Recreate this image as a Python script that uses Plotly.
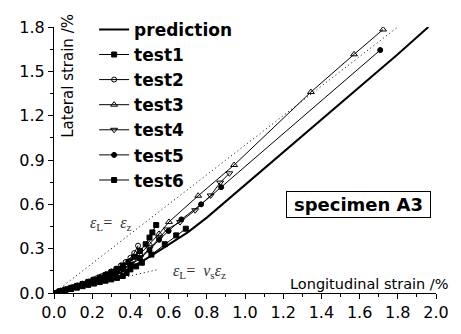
import plotly.graph_objects as go

# ---------------- data ----------------
pred_x = [0, 0.1, 0.2, 0.3, 0.4, 0.5, 0.6, 0.7, 0.8, 0.9, 1.0, 1.2, 1.4, 1.6, 1.8, 1.96]
pred_y = [0, 0.03, 0.065, 0.11, 0.17, 0.245, 0.325, 0.41, 0.51, 0.62, 0.735, 0.955, 1.175, 1.395, 1.615, 1.80]

t1_x = [0, 0.03, 0.06, 0.09, 0.12, 0.15, 0.18, 0.21, 0.24, 0.27, 0.30, 0.33, 0.36, 0.38, 0.40,
        0.43, 0.46, 0.51, 0.58, 0.64, 0.69]
t1_y = [0, 0.009, 0.018, 0.027, 0.036, 0.046, 0.055, 0.064, 0.074, 0.083, 0.092, 0.102, 0.115,
        0.135, 0.16, 0.18, 0.205, 0.26, 0.33, 0.39, 0.435]

t2_x = [0, 0.025, 0.05, 0.075, 0.10, 0.125, 0.15, 0.175, 0.20, 0.225, 0.25, 0.275, 0.30, 0.325,
        0.35, 0.375, 0.40, 0.42, 0.44]
t2_y = [0, 0.010, 0.020, 0.030, 0.040, 0.051, 0.062, 0.074, 0.087, 0.100, 0.114, 0.129, 0.146,
        0.165, 0.186, 0.21, 0.238, 0.27, 0.32]

t3_x = [0, 0.03, 0.06, 0.09, 0.12, 0.15, 0.18, 0.21, 0.24, 0.27, 0.30, 0.33, 0.36, 0.40, 0.45,
        0.50, 0.55, 0.602, 0.755, 0.943, 1.345, 1.571, 1.723]
t3_y = [0, 0.012, 0.024, 0.036, 0.049, 0.062, 0.076, 0.091, 0.107, 0.124, 0.142, 0.162, 0.183,
        0.215, 0.262, 0.33, 0.40, 0.481, 0.658, 0.866, 1.36, 1.615, 1.783]

t4_x = [0, 0.03, 0.06, 0.09, 0.12, 0.15, 0.18, 0.21, 0.24, 0.27, 0.30, 0.33, 0.36, 0.40, 0.45,
        0.50, 0.55, 0.59, 0.66, 0.739, 0.82, 0.87, 0.918]
t4_y = [0, 0.011, 0.022, 0.033, 0.045, 0.057, 0.07, 0.083, 0.097, 0.112, 0.128, 0.146, 0.166,
        0.195, 0.24, 0.30, 0.37, 0.43, 0.48, 0.56, 0.66, 0.747, 0.81]

t5_x = [0, 0.03, 0.06, 0.09, 0.12, 0.15, 0.18, 0.21, 0.24, 0.27, 0.30, 0.33, 0.36, 0.40, 0.45,
        0.50, 0.55, 0.60, 0.667, 0.77, 0.875, 1.708]
t5_y = [0, 0.010, 0.021, 0.032, 0.043, 0.055, 0.067, 0.08, 0.094, 0.109, 0.125, 0.142, 0.161,
        0.19, 0.232, 0.29, 0.36, 0.42, 0.498, 0.60, 0.716, 1.644]

t6_x = [0, 0.03, 0.06, 0.09, 0.12, 0.15, 0.18, 0.21, 0.24, 0.27, 0.30, 0.33, 0.36, 0.39, 0.42,
        0.45, 0.48, 0.50, 0.515, 0.535]
t6_y = [0, 0.011, 0.023, 0.035, 0.048, 0.061, 0.075, 0.09, 0.105, 0.122, 0.14, 0.16, 0.185,
        0.21, 0.245, 0.285, 0.33, 0.375, 0.41, 0.46]

eq_x = [0, 1.8]          # eps_L = eps_z
eq_y = [0, 1.8]
nu_x = [0, 0.55]         # eps_L = nu_s eps_z
nu_y = [0, 0.16]

series = [
    ("test1", t1_x, t1_y, "square", 5),
    ("test2", t2_x, t2_y, "circle-open", 5),
    ("test3", t3_x, t3_y, "triangle-up-open", 6),
    ("test4", t4_x, t4_y, "triangle-down-open", 6),
    ("test5", t5_x, t5_y, "circle-cross", 5),
    ("test6", t6_x, t6_y, "square", 5),
]

fig = go.Figure()

fig.add_trace(go.Scatter(x=eq_x, y=eq_y, mode="lines", showlegend=False,
                         line=dict(color="black", width=1, dash="1px,3px")))
fig.add_trace(go.Scatter(x=nu_x, y=nu_y, mode="lines", showlegend=False,
                         line=dict(color="black", width=1, dash="1px,3px")))

fig.add_trace(go.Scatter(x=pred_x, y=pred_y, mode="lines", name="prediction",
                         line=dict(color="black", width=2)))

for name, xs, ys, sym, sz in series:
    fig.add_trace(go.Scatter(
        x=xs, y=ys, mode="lines+markers", name=name,
        line=dict(color="black", width=1),
        marker=dict(symbol=sym, size=sz, color="black",
                    line=dict(color="black", width=1)),
    ))

FONT = "DejaVu Sans"

fig.update_layout(
    width=461, height=334,
    margin=dict(l=54, r=15, t=16, b=29),
    paper_bgcolor="white", plot_bgcolor="white",
    font=dict(family=FONT, color="black"),
    showlegend=True,
    legend=dict(x=0.105, y=1.057, xanchor="left", yanchor="top",
                bgcolor="rgba(0,0,0,0)", borderwidth=0, maxheight=400,
                font=dict(family="DejaVu Sans", size=17, color="black", weight="bold")),
    xaxis=dict(range=[0, 2.0], dtick=0.2, tick0=0, tickformat=".1f",
               ticks="outside", ticklen=5, tickwidth=1, tickcolor="black",
               showline=True, linecolor="black", linewidth=1,
               showgrid=False, zeroline=False,
               minor=dict(dtick=0.1, ticks="outside", ticklen=3, tickcolor="black", showgrid=False),
               tickfont=dict(family=FONT, size=16, color="black")),
    yaxis=dict(range=[0, 1.8], dtick=0.3, tick0=0, tickformat=".1f",
               ticks="outside", ticklen=5, tickwidth=1, tickcolor="black",
               showline=True, linecolor="black", linewidth=1,
               showgrid=False, zeroline=False,
               minor=dict(dtick=0.15, ticks="outside", ticklen=3, tickcolor="black", showgrid=False),
               tickfont=dict(family=FONT, size=16, color="black")),
)

fig.add_annotation(text="Longitudinal strain /%", xref="paper", yref="paper",
                   x=1.04, y=0.035, xanchor="right", yanchor="middle", showarrow=False,
                   font=dict(family=FONT, size=14.5, color="black"))
fig.add_annotation(text="Lateral strain /%", xref="paper", yref="paper",
                   x=0.037, y=0.817, xanchor="center", yanchor="middle", textangle=-90,
                   showarrow=False, font=dict(family=FONT, size=15, color="black"))
fig.add_annotation(text="<b>specimen A3</b>", xref="x", yref="y", x=1.594, y=0.601,
                   showarrow=False, bordercolor="black", borderwidth=1, borderpad=2,
                   width=139, bgcolor="white",
                   font=dict(family=FONT, size=18, color="black"))
fig.add_annotation(text="<i>ε</i><sub>L</sub>=  <i>ε</i><sub>z</sub>", xref="x", yref="y",
                   x=0.296, y=0.47, showarrow=False,
                   font=dict(family="Liberation Serif", size=16, color="#333"))
fig.add_annotation(text="<i>ε</i><sub>L</sub>=  <i>ν</i><sub>s</sub><i>ε</i><sub>z</sub>",
                   xref="x", yref="y", x=0.76, y=0.143, showarrow=False,
                   font=dict(family="Liberation Serif", size=16, color="#333"))

fig.write_html("out.html")
